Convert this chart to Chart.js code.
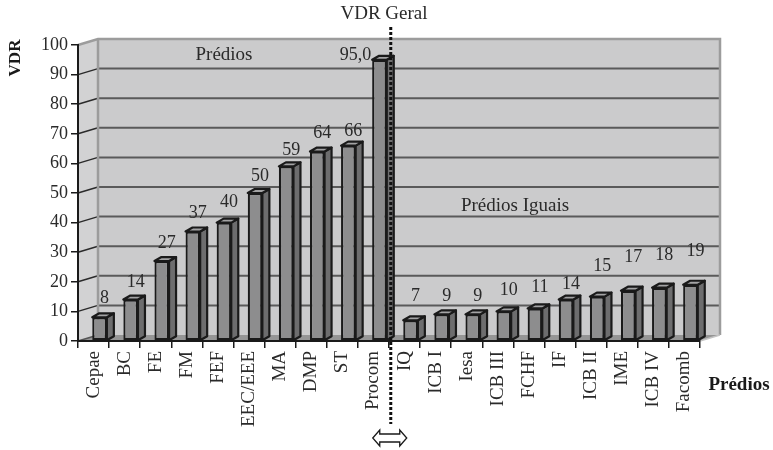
<!DOCTYPE html>
<html>
<head>
<meta charset="utf-8">
<script src="https://cdn.jsdelivr.net/npm/chart.js@4/dist/chart.umd.min.js"></script>
<style>
  html, body { margin: 0; padding: 0; background: #ffffff; }
  canvas { display: block; }
</style>
</head>
<body>
<canvas id="c" width="773" height="450"></canvas>
<script>
// Buildings (Prédios) and their VDR values
const categories = ['Cepae', 'BC', 'FE', 'FM', 'FEF', 'EEC/EEE', 'MA', 'DMP', 'ST', 'Procom',
                    'IQ', 'ICB I', 'Iesa', 'ICB III', 'FCHF', 'IF', 'ICB II', 'IME', 'ICB IV', 'Facomb'];
const vdr = [8, 14, 27, 37, 40, 50, 59, 64, 66, 95.0,
             7, 9, 9, 10, 11, 14, 15, 17, 18, 19];
const yTickValues = [0, 10, 20, 30, 40, 50, 60, 70, 80, 90, 100];
const geralCategory = 'Procom';

// ---- drawing setup ----
const FONT = '"Liberation Serif", "Times New Roman", serif';
const TEXT = '#2a2a2a';
const WALL_DX = 20, WALL_DY = -6;       // depth of the back wall
const BAR_SHIFT = 6;                    // bars sit a little into the depth
const BAR_DX = 7, BAR_DY = -4;          // depth of each bar
const labelLift = [19, 17, 18, 18, 20, 17, 16, 18, 14, 0, 24, 18, 18, 21, 21, 15, 30, 33, 32, 33];

function poly(ctx, pts) {
  ctx.beginPath();
  ctx.moveTo(pts[0][0], pts[0][1]);
  for (let i = 1; i < pts.length; i++) ctx.lineTo(pts[i][0], pts[i][1]);
  ctx.closePath();
}

const box3d = {
  id: 'box3d',
  beforeDraw(chart) {
    const { ctx, chartArea: a, scales: { y } } = chart;
    const yF = v => y.getPixelForValue(v);
    const L = a.left, R = a.right;
    const bx0 = L + WALL_DX, bx1 = R + WALL_DX;
    const top = yF(100), bot = yF(0);
    ctx.save();
    // back wall
    ctx.fillStyle = '#cbcbcc';
    ctx.fillRect(bx0, top + WALL_DY, bx1 - bx0, bot - top);
    // side wall
    ctx.fillStyle = '#d2d2d3';
    poly(ctx, [[L, top], [bx0, top + WALL_DY], [bx0, bot + WALL_DY], [L, bot]]);
    ctx.fill();
    // floor
    ctx.fillStyle = '#959595';
    poly(ctx, [[L, bot], [R, bot], [bx1, bot + WALL_DY], [bx0, bot + WALL_DY]]);
    ctx.fill();
    // grid lines on both walls
    yTickValues.forEach(v => {
      if (v <= 0 || v >= 100) return;
      const yy = yF(v);
      ctx.strokeStyle = '#5a5a5a';
      ctx.lineWidth = 2;
      ctx.beginPath();
      ctx.moveTo(bx0, yy + WALL_DY);
      ctx.lineTo(bx1, yy + WALL_DY);
      ctx.stroke();
      ctx.strokeStyle = '#2a2a2a';
      ctx.lineWidth = 1.5;
      ctx.beginPath();
      ctx.moveTo(L, yy);
      ctx.lineTo(bx0, yy + WALL_DY);
      ctx.stroke();
    });
    // wall edges
    ctx.strokeStyle = '#9c9c9c';
    ctx.lineWidth = 2.5;
    ctx.beginPath();
    ctx.moveTo(L, top);
    ctx.lineTo(bx0, top + WALL_DY);
    ctx.lineTo(bx1, top + WALL_DY);
    ctx.lineTo(bx1, bot + WALL_DY);
    ctx.moveTo(bx0, top + WALL_DY);
    ctx.lineTo(bx0, bot + WALL_DY);
    ctx.stroke();
    ctx.strokeStyle = '#c4c4c4';
    ctx.lineWidth = 1.5;
    ctx.beginPath();
    ctx.moveTo(R, bot);
    ctx.lineTo(bx1, bot + WALL_DY);
    ctx.stroke();
    ctx.strokeStyle = '#555';
    ctx.beginPath();
    ctx.moveTo(L, bot);
    ctx.lineTo(bx0, bot + WALL_DY);
    ctx.stroke();
    ctx.restore();
  },
  beforeDatasetsDraw(chart) {
    chart.ctx.save();
    chart.ctx.translate(BAR_SHIFT, 0);
  },
  afterDatasetsDraw(chart) {
    const ctx = chart.ctx;
    const meta = chart.getDatasetMeta(0);
    ctx.lineJoin = 'round';
    meta.data.forEach(el => {
      const { x, y, base, width } = el.getProps(['x', 'y', 'base', 'width'], true);
      const l = x - width / 2, r = x + width / 2;
      ctx.lineWidth = 2.2;
      ctx.strokeStyle = '#1a1a1a';
      // side face
      ctx.fillStyle = '#6d6d6e';
      poly(ctx, [[r, y], [r + BAR_DX, y + BAR_DY], [r + BAR_DX, base + BAR_DY], [r, base]]);
      ctx.fill();
      ctx.stroke();
      // top face
      ctx.fillStyle = '#a3a3a4';
      poly(ctx, [[l, y], [l + BAR_DX, y + BAR_DY], [r + BAR_DX, y + BAR_DY], [r, y]]);
      ctx.fill();
      ctx.stroke();
    });
    ctx.restore();
  },
  afterDraw(chart) {
    const ctx = chart.ctx;
    const meta = chart.getDatasetMeta(0);
    ctx.save();
    ctx.fillStyle = TEXT;
    ctx.font = '18px ' + FONT;
    ctx.textBaseline = 'middle';
    let geralX = 0;
    meta.data.forEach((el, i) => {
      const { x, y, width } = el.getProps(['x', 'y', 'width'], true);
      const v = vdr[i];
      if (categories[i] === geralCategory) {
        ctx.textAlign = 'right';
        ctx.fillText(v.toFixed(1).replace('.', ','), x + BAR_SHIFT - width / 2 - 1, y - 5);
        geralX = x + BAR_SHIFT + width / 2 + BAR_DX / 2 + 0.5;
      } else {
        ctx.textAlign = 'center';
        ctx.fillText(String(v), x + BAR_SHIFT + 5, y - labelLift[i]);
      }
    });

    // group titles
    ctx.textAlign = 'center';
    ctx.font = '19px ' + FONT;
    ctx.fillText('Prédios', 224, 55);
    ctx.fillText('Prédios Iguais', 515, 206);
    ctx.fillText('VDR Geral', 384, 14);

    // axis titles
    ctx.font = 'bold 19px ' + FONT;
    ctx.fillStyle = '#1a1a1a';
    ctx.fillText('Prédios', 739, 385);
    ctx.save();
    ctx.translate(16, 58);
    ctx.rotate(-Math.PI / 2);
    ctx.font = 'bold 17px ' + FONT;
    ctx.fillText('VDR', 0, 0);
    ctx.restore();

    // VDR Geral divider
    ctx.strokeStyle = '#111';
    ctx.lineWidth = 3;
    ctx.setLineDash([3, 2]);
    ctx.beginPath();
    ctx.moveTo(geralX, 27);
    ctx.lineTo(geralX, 424);
    ctx.stroke();
    ctx.setLineDash([]);

    // double-headed arrow
    const cx = geralX - 1, cy = 438;
    const hw = 17, hl = 7, hh = 8, sh = 4;
    ctx.fillStyle = '#ffffff';
    ctx.strokeStyle = '#1a1a1a';
    ctx.lineWidth = 1.3;
    poly(ctx, [
      [cx - hw, cy], [cx - hw + hl, cy - hh], [cx - hw + hl, cy - sh],
      [cx + hw - hl, cy - sh], [cx + hw - hl, cy - hh], [cx + hw, cy],
      [cx + hw - hl, cy + hh], [cx + hw - hl, cy + sh], [cx - hw + hl, cy + sh],
      [cx - hw + hl, cy + hh]
    ]);
    ctx.fill();
    ctx.stroke();
    ctx.restore();
  }
};

new Chart(document.getElementById('c'), {
  type: 'bar',
  data: {
    labels: categories,
    datasets: [{
      data: vdr,
      backgroundColor: '#8d8d8e',
      borderColor: '#1a1a1a',
      borderWidth: 2.2,
      borderSkipped: false,
      barPercentage: 0.47,
      categoryPercentage: 1,
      clip: false
    }]
  },
  options: {
    responsive: false,
    animation: false,
    events: [],
    layout: { padding: { top: 45, right: 73, left: 0, bottom: 0 } },
    plugins: { legend: { display: false }, tooltip: { enabled: false } },
    scales: {
      x: {
        grid: { offset: true, drawOnChartArea: false, tickLength: 7, color: '#1a1a1a', lineWidth: 1.5 },
        border: { display: true, color: '#1a1a1a', width: 2 },
        ticks: { minRotation: 90, maxRotation: 90, autoSkip: false, padding: 3, color: TEXT,
                 font: { family: FONT, size: 19 } },
        afterFit(s) { s.height = 109; }
      },
      y: {
        min: 0, max: 100,
        afterBuildTicks(s) { s.ticks = yTickValues.map(v => ({ value: v })); },
        grid: { drawOnChartArea: false, tickLength: 7, color: '#1a1a1a', lineWidth: 1.5 },
        border: { display: true, color: '#1a1a1a', width: 2 },
        ticks: { padding: 3, color: TEXT, font: { family: FONT, size: 18 } },
        afterFit(s) { s.width = 78; }
      }
    }
  },
  plugins: [box3d]
});
</script>
</body>
</html>
